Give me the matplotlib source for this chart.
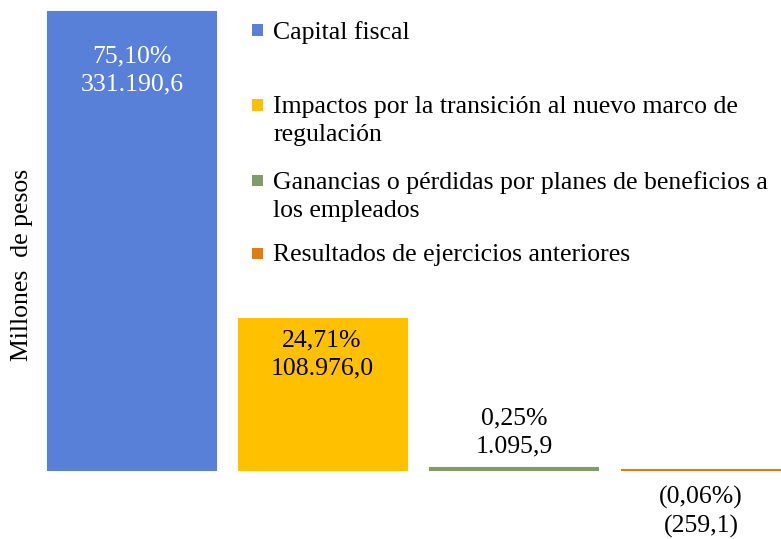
import matplotlib
matplotlib.use("Agg")
import matplotlib.pyplot as plt
from matplotlib.patches import Rectangle

categories = ["Capital fiscal",
              "Impactos por la transición al nuevo marco de\nregulación",
              "Ganancias o pérdidas por planes de beneficios a\nlos empleados",
              "Resultados de ejercicios anteriores"]
values = [331190.6, 108976.0, 1095.9, -259.1]
pct_labels = ["75,10%", "24,71%", "0,25%", "(0,06%)"]
val_labels = ["331.190,6", "108.976,0", "1.095,9", "(259,1)"]
colors = ["#5880D8", "#FFC000", "#829C69", "#E07C10"]

plt.rcParams['font.family'] = ['Liberation Serif', 'DejaVu Serif']
FS = 18.5

W, H = 781, 539
fig = plt.figure(figsize=(W / 100, H / 100), dpi=100)
ax = fig.add_axes([0, 0, 1, 1])

x = list(range(len(values)))
ax.bar(x, values, width=0.88, color=colors, edgecolor=colors, linewidth=1.5)

# pixel-mapped limits
px_per_unit = 458 / values[0]
ax.set_ylim(-(H - 470) / px_per_unit, 470 / px_per_unit)
ax.set_xlim(-132 / 191, (W - 132) / 191)
ax.axis("off")

# data labels
label_pos = [(0, 132, 70, "white"), (1, 322, 354, "black"),
             (2, 514, 432, "black"), (3, 701, 512, "black")]
for (i, xpx, ypx, col) in label_pos:
    fig.text(xpx / W, 1 - ypx / H,
             pct_labels[i] + "\n" + val_labels[i], ha="center", va="center",
             color=col, fontsize=FS, linespacing=1.35)

# y label
fig.text(22 / W, 1 - 265 / H, "Millones  de pesos", rotation=90,
         ha="center", va="center", fontsize=FS)

# legend (manual placement)
leg_y = [30, 105, 180, 253]
for lab, col, ypx in zip(categories, colors, leg_y):
    fig.patches.append(Rectangle((252 / W, 1 - (ypx + 5.5) / H), 11 / W, 11 / H,
                                 transform=fig.transFigure, facecolor=col,
                                 edgecolor="none"))
    fig.text(273 / W, 1 - (ypx - 9) / H, lab, ha="left", va="top",
             fontsize=FS, linespacing=1.35)

fig.savefig("out.png", dpi=100)
